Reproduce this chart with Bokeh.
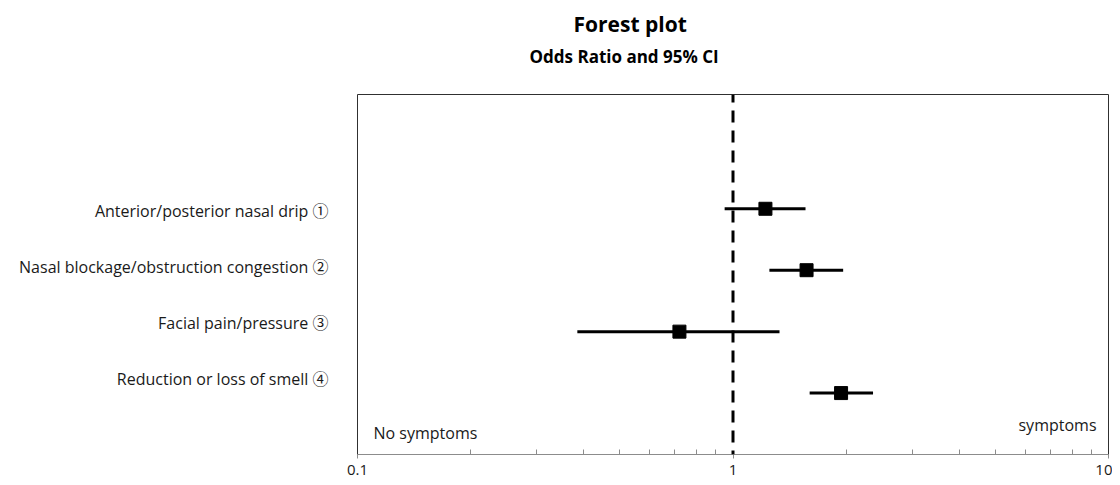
from bokeh.plotting import figure
from bokeh.models import Range1d, FixedTicker, Span, Label, Title, CustomJSTickFormatter
from bokeh.embed import file_html
from bokeh.resources import INLINE

# ---- data ----
symptoms = [
    "Anterior/posterior nasal drip \u2460",
    "Nasal blockage/obstruction congestion \u2461",
    "Facial pain/pressure \u2462",
    "Reduction or loss of smell \u2463",
]
odds_ratio = [1.22, 1.57, 0.72, 1.94]
ci_low = [0.95, 1.25, 0.385, 1.60]
ci_high = [1.56, 1.965, 1.33, 2.36]
x_tick_labels = {0.1: "0.1", 1: "1", 10: "10"}
left_note = "No symptoms"
right_note = "symptoms"
title_text = "Forest plot"
subtitle_text = "Odds Ratio and 95% CI"

FONT = "Open Sans"
LABEL_FONT = "'Open Sans', 'Noto Sans CJK JP'"
TXT = "#1a1a1a"
n = len(symptoms)
rows = [n - i for i in range(n)]                    # 4,3,2,1 top to bottom
label_rows = [3.97 - i * 0.915 for i in range(n)]   # label placement (Excel-style)

p = figure(width=1112, height=484, x_axis_type="log",
           x_range=Range1d(0.1, 10), y_range=Range1d(0, 5.86),
           output_backend="svg", toolbar_location=None,
           min_border_left=357, min_border_right=4, min_border_top=94,
           min_border_bottom=30,
           background_fill_color="white", border_fill_color="white")
p.grid.visible = False
p.outline_line_color = "#303030"
p.outline_line_width = 1

# reference line at OR = 1
p.add_layout(Span(location=1, dimension="height", line_color="black",
                  line_width=3, line_dash="12 8", line_dash_offset=4))

# confidence intervals and point estimates
p.segment(x0=ci_low, x1=ci_high, y0=rows, y1=rows, line_color="black", line_width=3)
p.scatter(x=odds_ratio, y=rows, marker="square", size=13,
          fill_color="black", line_color="black")

# x axis
xa = p.xaxis[0]
xa.ticker = FixedTicker(ticks=list(x_tick_labels.keys()),
                        minor_ticks=[k * d for d in (0.1, 1) for k in range(2, 10)])
xa.formatter = CustomJSTickFormatter(args=dict(lab={str(k): v for k, v in x_tick_labels.items()}),
                                     code="return lab[String(tick)] || String(tick);")
xa.axis_line_color = "#8c8c8c"
xa.major_tick_line_color = "#8c8c8c"
xa.minor_tick_line_color = "#8c8c8c"
xa.major_tick_in = 0
xa.major_tick_out = 4
xa.minor_tick_in = 5
xa.minor_tick_out = 0
xa.major_label_standoff = 6
xa.major_label_text_font = FONT
xa.major_label_text_font_size = "15px"
xa.major_label_text_color = TXT

# y axis: symptom labels
ya = p.yaxis[0]
ya.ticker = FixedTicker(ticks=label_rows, minor_ticks=[])
ya.major_label_overrides = {t: s for t, s in zip(label_rows, symptoms)}
ya.axis_line_color = None
ya.major_tick_line_color = None
ya.minor_tick_line_color = None
ya.major_tick_in = 0
ya.major_tick_out = 0
ya.major_label_standoff = 29
ya.major_label_text_font = LABEL_FONT
ya.major_label_text_font_size = "16px"
ya.major_label_text_color = TXT

# notes inside plot
p.add_layout(Label(x=0.1, y=0.345, x_offset=16, text=left_note, text_font=FONT,
                   text_font_size="16px", text_color=TXT,
                   text_align="left", text_baseline="middle"))
p.add_layout(Label(x=10, y=0.475, x_offset=-12, text=right_note, text_font=FONT,
                   text_font_size="16px", text_color=TXT,
                   text_align="right", text_baseline="middle"))

# titles (first added sits closest to the frame); blank spacer keeps the gap
p.add_layout(Title(text=" ", standoff=8, text_font_size="16px"), "above")
p.add_layout(Title(text=subtitle_text, align="left", offset=172, standoff=0,
                   text_font=FONT, text_font_size="17px", text_font_style="bold",
                   text_color="black"), "above")
p.add_layout(Title(text=title_text, align="left", offset=216, standoff=10,
                   text_font=FONT, text_font_size="21px", text_font_style="bold",
                   text_color="black"), "above")

open("out.html", "w").write(file_html(p, INLINE))
